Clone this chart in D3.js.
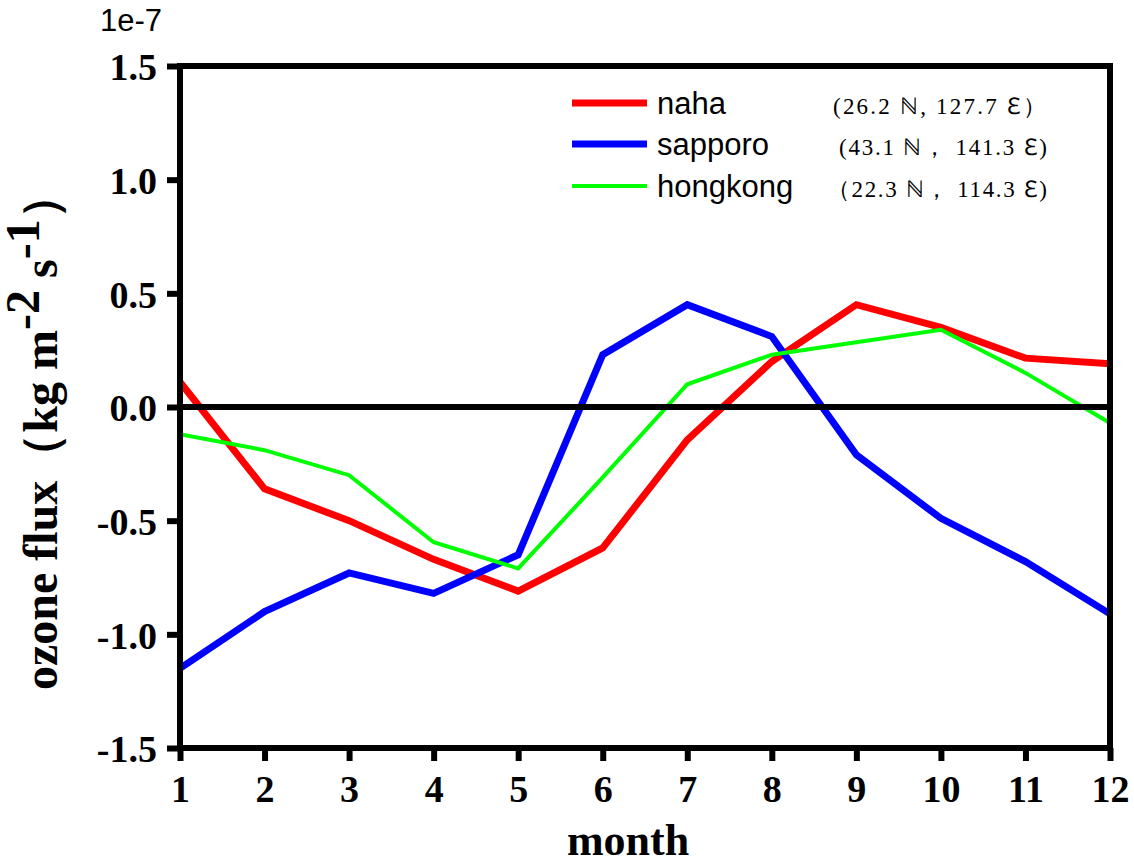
<html>
<head>
<meta charset="utf-8">
<title>ozone flux</title>
<style>
  body { margin: 0; background-color: white; }
  svg { display: block; background-color: white; }
  .tick text { font-family: "Liberation Serif", "Times New Roman", serif; font-weight: bold; font-size: 38px; fill: black; }
  .tick line { stroke: black; stroke-width: 6px; }
</style>
</head>
<body>
<div id="chart"></div>

<script src="https://cdnjs.cloudflare.com/ajax/libs/d3/7.8.5/d3.min.js"></script>
<script>
// data (units of 1e-7 kg m-2 s-1)
var months = [1, 2, 3, 4, 5, 6, 7, 8, 9, 10, 11, 12];
var naha     = [0.11, -0.36, -0.50, -0.67, -0.81, -0.62, -0.145, 0.20, 0.45, 0.35, 0.215, 0.19];
var sapporo  = [-1.15, -0.90, -0.73, -0.82, -0.65, 0.23, 0.45, 0.31, -0.21, -0.49, -0.68, -0.91];
var hongkong = [-0.12, -0.19, -0.30, -0.595, -0.71, -0.31, 0.10, 0.23, 0.285, 0.34, 0.15, -0.07];
var yTicks = [-1.5, -1.0, -0.5, 0.0, 0.5, 1.0, 1.5];
var seriesNames = ["naha", "sapporo", "hongkong"];
var seriesCoords = ["(26.2 \u2115,  127.7 \u2107\uFF09", "(43.1 \u2115\uFF0C 141.3 \u2107)", "\uFF0822.3 \u2115\uFF0C 114.3 \u2107)"];

var fullWidth = 1134, fullHeight = 863;
var margin = {top: 66, right: 24, bottom: 115, left: 180};
var width = 1110 - margin.left;   // plot box right edge at x=1110
var height = 748 - margin.top;    // plot box bottom at y=748

var svg = d3.select("#chart").append("svg")
  .attr("width", fullWidth)
  .attr("height", fullHeight);

var g = svg.append("g")
  .attr("transform", "translate(" + margin.left + "," + margin.top + ")");

var x = d3.scaleLinear().domain([1, 12]).range([0, width]);
var y = d3.scaleLinear().domain([-1.5, 1.5]).range([height, 0]);

var styles = [
  {data: naha, color: "#ff0000", w: 7},
  {data: sapporo, color: "#0000ff", w: 7},
  {data: hongkong, color: "#00ff00", w: 4}
];

// axes
var yAxis = d3.axisLeft(y).tickValues(yTicks).tickSize(13).tickPadding(10)
  .tickFormat(function(d) { return d.toFixed(1); });
var xAxis = d3.axisBottom(x).tickValues(months).tickSize(13).tickPadding(14)
  .tickFormat(d3.format("d"));

var ya = g.append("g").attr("class", "y axis").call(yAxis);
var xa = g.append("g").attr("class", "x axis")
  .attr("transform", "translate(0," + height + ")").call(xAxis);
ya.select(".domain").remove();
xa.select(".domain").remove();
ya.selectAll("text").attr("dy", "0.36em");

// series lines
var line = d3.line()
  .x(function(d, i) { return x(months[i]); })
  .y(function(d) { return y(d); });

styles.forEach(function(s) {
  g.append("path")
    .datum(s.data)
    .attr("fill", "none")
    .attr("stroke", s.color)
    .attr("stroke-width", s.w)
    .attr("stroke-linejoin", "miter")
    .attr("d", line);
});

// zero line
g.append("line")
  .attr("x1", 0).attr("x2", width)
  .attr("y1", y(0)).attr("y2", y(0))
  .attr("stroke", "black").attr("stroke-width", 6);

// frame
g.append("rect")
  .attr("x", 0).attr("y", 0)
  .attr("width", width).attr("height", height)
  .attr("fill", "none").attr("stroke", "black").attr("stroke-width", 6);

// legend
var legend = svg.append("g").attr("transform", "translate(572,0)");
var legY = [103, 144, 186];
var coordX = [261, 267, 255];
var coordLen = [213, 208, 220];
styles.forEach(function(s, i) {
  legend.append("line")
    .attr("x1", 0).attr("x2", 75)
    .attr("y1", legY[i]).attr("y2", legY[i])
    .attr("stroke", s.color).attr("stroke-width", s.w);
  legend.append("text")
    .attr("x", 85).attr("y", legY[i] + 11)
    .attr("font-family", "Liberation Sans, Arial, sans-serif")
    .attr("font-size", 31)
    .text(seriesNames[i]);
  legend.append("text")
    .attr("x", coordX[i]).attr("y", legY[i] + 11)
    .attr("font-family", "Liberation Serif, 'Times New Roman', serif")
    .attr("font-size", 23)
    .attr("textLength", coordLen[i])
    .attr("lengthAdjust", "spacing")
    .text(seriesCoords[i]);
});

// exponent
svg.append("text")
  .attr("x", 100).attr("y", 31)
  .attr("font-family", "Liberation Sans, Arial, sans-serif")
  .attr("font-size", 31)
  .text("1e-7");

// x label
svg.append("text")
  .attr("x", 628).attr("y", 855)
  .attr("text-anchor", "middle")
  .attr("font-family", "Liberation Serif, 'Times New Roman', serif")
  .attr("font-weight", "bold")
  .attr("font-size", 44)
  .text("month");

// y label
var yl = svg.append("text")
  .attr("transform", "translate(57,690) rotate(-90)")
  .attr("font-family", "Liberation Serif, 'Times New Roman', serif")
  .attr("font-weight", "bold")
  .attr("font-size", 48);
yl.append("tspan").text("ozone flux\uFF08kg m");
yl.append("tspan").attr("dy", -18).text("-2");
yl.append("tspan").attr("dy", 18).text(" s");
yl.append("tspan").attr("dy", -18).text("-1");
yl.append("tspan").attr("dy", 18).text("\uFF09");
</script>
</body>
</html>
